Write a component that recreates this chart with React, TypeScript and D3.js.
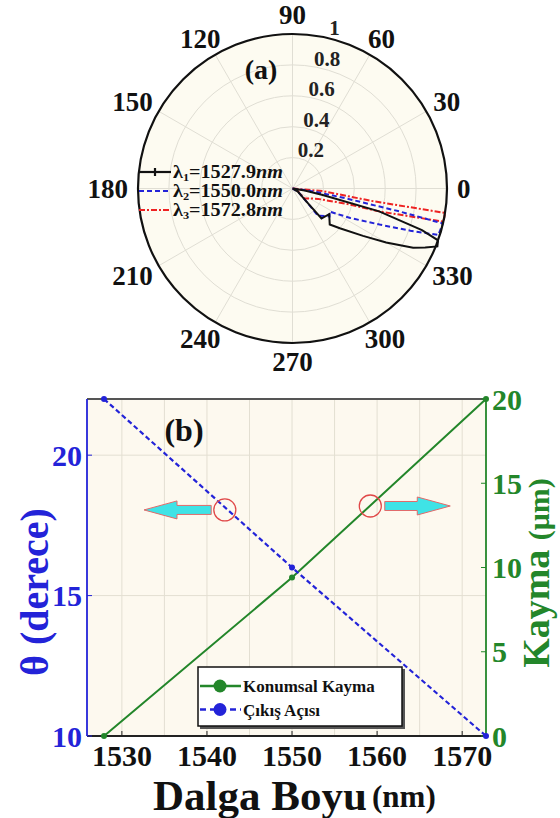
import React from 'react';
import * as d3 from 'd3';

const FONT = '"Liberation Serif", "Times New Roman", serif';

// ---------- (a) polar data ----------
const polarAngleTicks = [0, 30, 60, 90, 120, 150, 180, 210, 240, 270, 300, 330];
const polarRadialTicks = [0.2, 0.4, 0.6, 0.8, 1];
// [angle in degrees (counter-clockwise from 0), normalized intensity]
const lobeLambda1: [number, number][] = [
  [0, 0], [-9, 0.08], [-12, 0.2], [-14.8, 0.58], [-17.8, 0.88], [-19.6, 1.0],
  [-21.8, 1.01], [-24, 0.94], [-26.2, 0.87], [-30, 0.7], [-33.9, 0.55], [-40, 0.4],
  [-44, 0.335], [-35, 0.29], [-46, 0.27], [-43, 0.124], [-30, 0.04], [0, 0],
];
const lobeLambda2: [number, number][] = [
  [0, 0], [-8, 0.15], [-10.5, 0.36], [-12.1, 0.71], [-13.1, 1.0], [-17.7, 0.99],
  [-19.7, 0.81], [-22.5, 0.61], [-27, 0.42], [-31.9, 0.283], [-37, 0.3],
  [-47, 0.24], [-43, 0.124], [-30, 0.04], [0, 0],
];
const lobeLambda3: [number, number][] = [
  [0, 0], [-5, 0.2], [-8.9, 0.51], [-9.1, 1.0], [-12.4, 1.0], [-13.5, 0.75],
  [-14.8, 0.58], [-16, 0.35], [-22, 0.18], [-30, 0.128], [-40, 0.1], [-20, 0.03], [0, 0],
];
const polarSeriesSub = ['1', '2', '3'];
const polarSeriesValue = ['1527.9', '1550.0', '1572.8'];

// ---------- (b) data ----------
const wavelengths = [1527.9, 1550.0, 1572.8];
const exitAngle = [22.0, 16.0, 10.0];
const spatialShift = [0, 9.4, 20];
const xTicks = [1530, 1540, 1550, 1560, 1570];
const xGrid = [1530, 1535, 1540, 1545, 1550, 1555, 1560, 1565, 1570];
const leftTicks = [10, 15, 20];
const rightTicks = [0, 5, 10, 15, 20];
const legendLabels = ['Konumsal Kayma', 'Çıkış Açısı'];

const BLUE = '#2323d8';
const GREEN = '#23862a';
const RED = '#ee2222';

export default function App() {
  // polar geometry
  const cx = 292.5, cy = 188.5, R = 154.5;
  const rS = d3.scaleLinear().domain([0, 1]).range([0, R]);
  const toRad = (a: number) => (a * Math.PI) / 180;
  const radial = d3
    .lineRadial<[number, number]>()
    .angle((d) => toRad(90 - d[0]))
    .radius((d) => rS(d[1]));

  // plot b geometry
  const x0 = 87, x1 = 486, yTop = 399, yBot = 736;
  const xS = d3.scaleLinear().domain([1525.9, 1572.8]).range([x0, x1]);
  const yL = d3.scaleLinear().domain([10, 22]).range([yBot, yTop]);
  const yR = d3.scaleLinear().domain([0, 20]).range([yBot, yTop]);

  const thetaLine = d3.line<number>().x((_, i) => xS(wavelengths[i])).y((d) => yL(d))(exitAngle) || '';
  const shiftLine = d3.line<number>().x((_, i) => xS(wavelengths[i])).y((d) => yR(d))(spatialShift) || '';

  // annotation arrows
  const arrow = (tipX: number, tailX: number, y: number) => {
    const dir = tipX < tailX ? 1 : -1;
    const hl = 33, hh = 9, bh = 4.5;
    const hb = tipX + dir * hl;
    return `M${tipX},${y} L${hb},${y - hh} L${hb},${y - bh} L${tailX},${y - bh} L${tailX},${y + bh} L${hb},${y + bh} L${hb},${y + hh} Z`;
  };
  const leftArrowY = yL(18.05);
  const rightArrowY = yR(13.65);

  const lblW = 13.5;

  return (
    <svg width={560} height={818} style={{ position: 'absolute', left: 0, top: 0, background: '#fff' }} fontFamily={FONT}>
      {/* ===== (a) polar ===== */}
      <g transform={`translate(${cx},${cy})`}>
        <circle r={R} fill="#fdfbf1" />
        {polarRadialTicks.slice(0, -1).map((t) => (
          <circle key={t} r={rS(t)} fill="none" stroke="#e0ded4" strokeWidth={1} />
        ))}
        {polarAngleTicks.map((a) => (
          <line key={a} x1={0} y1={0} x2={R * Math.cos(toRad(a))} y2={-R * Math.sin(toRad(a))} stroke="#e0ded4" strokeWidth={1} />
        ))}
        <path d={radial(lobeLambda3) || ''} fill="none" stroke={RED} strokeWidth={2} strokeDasharray="6,2,2,2" />
        <path d={radial(lobeLambda2) || ''} fill="none" stroke={BLUE} strokeWidth={2} strokeDasharray="5,3" />
        <path d={radial(lobeLambda1) || ''} fill="none" stroke="#111" strokeWidth={2} />
        <circle r={R} fill="none" stroke="#111" strokeWidth={2.2} />
        {polarRadialTicks.map((t) => (
          <text key={t} x={rS(t) * Math.cos(toRad(80)) + (t === 1 ? 10 : 0)} y={-rS(t) * Math.sin(toRad(80)) - 1}
            fontSize={21} fontWeight="bold" fill="#222">{t}</text>
        ))}
        {polarAngleTicks.map((a) => {
          const w = String(a).length * lblW;
          const c = Math.cos(toRad(a)), s = Math.sin(toRad(a));
          const x = c * (R + 10) + c * w / 2;
          const y = -s * (R + 10 + 9);
          return (
            <text key={a} x={x} y={y} dy="0.35em" textAnchor="middle" fontSize={27} fontWeight="bold" fill="#111">{a}</text>
          );
        })}
      </g>
      <text x={261} y={79} textAnchor="middle" fontSize={28} fontWeight="bold" fill="#111">(a)</text>
      {/* polar legend */}
      {polarSeriesSub.map((sub, i) => {
        const y = 172 + i * 19;
        const stroke = i === 0 ? '#111' : i === 1 ? BLUE : RED;
        const dash = i === 0 ? undefined : i === 1 ? '5,3' : '6,2,2,2';
        return (
          <g key={sub}>
            <line x1={139} x2={171} y1={y} y2={y} stroke={stroke} strokeWidth={2.2} strokeDasharray={dash} />
            {i === 0 && <line x1={155} x2={155} y1={y - 4} y2={y + 4} stroke="#111" strokeWidth={2.2} />}
            <text transform={`translate(173,${y + 6}) scale(1.12,1)`} fontSize={18} fontWeight="bold" fill="#111">
              λ<tspan fontSize={11} dy={3}>{sub}</tspan>
              <tspan dy={-3}>={polarSeriesValue[i]}</tspan>
              <tspan fontStyle="italic">nm</tspan>
            </text>
          </g>
        );
      })}

      {/* ===== (b) ===== */}
      <rect x={x0} y={yTop} width={x1 - x0} height={yBot - yTop} fill="#fdf9ef" />
      {xGrid.map((v) => (
        <line key={v} x1={xS(v)} x2={xS(v)} y1={yTop} y2={yBot} stroke="#e3dfd2" strokeWidth={1} />
      ))}
      {[15, 20].map((v) => (
        <line key={v} x1={x0} x2={x1} y1={yL(v)} y2={yL(v)} stroke="#e3dfd2" strokeWidth={1} />
      ))}
      {/* axes */}
      <line x1={x0} x2={x1} y1={yTop} y2={yTop} stroke="#555" strokeWidth={2} />
      <line x1={x0} x2={x1} y1={yBot} y2={yBot} stroke="#222" strokeWidth={2} />
      <line x1={x0} x2={x0} y1={yTop} y2={yBot} stroke={BLUE} strokeWidth={1.8} />
      <line x1={x1} x2={x1} y1={yTop} y2={yBot} stroke={GREEN} strokeWidth={1.8} />
      {xTicks.map((v) => (
        <g key={v}>
          <line x1={xS(v)} x2={xS(v)} y1={yBot} y2={yBot - 5} stroke="#222" strokeWidth={1} />
          <text x={xS(v)} y={766} textAnchor="middle" fontSize={30} fontWeight="bold" fill="#111">{v}</text>
        </g>
      ))}
      {leftTicks.map((v) => (
        <g key={v}>
          <line x1={x0} x2={x0 + 5} y1={yL(v)} y2={yL(v)} stroke={BLUE} strokeWidth={1} />
          <text x={x0 - 5} y={yL(v)} dy="0.35em" textAnchor="end" fontSize={30} fontWeight="bold" fill={BLUE}>{v}</text>
        </g>
      ))}
      {rightTicks.map((v) => (
        <g key={v}>
          <line x1={x1} x2={x1 - 5} y1={yR(v)} y2={yR(v)} stroke={GREEN} strokeWidth={1} />
          <text x={x1 + 6} y={yR(v)} dy="0.35em" textAnchor="start" fontSize={30} fontWeight="bold" fill={GREEN}>{v}</text>
        </g>
      ))}

      {/* series */}
      <path d={shiftLine} fill="none" stroke={GREEN} strokeWidth={2} />
      {spatialShift.map((v, i) => (
        <circle key={i} cx={xS(wavelengths[i])} cy={yR(v)} r={3} fill={GREEN} />
      ))}
      <path d={thetaLine} fill="none" stroke={BLUE} strokeWidth={2.2} strokeDasharray="5,3" />
      {exitAngle.map((v, i) => (
        <circle key={i} cx={xS(wavelengths[i])} cy={yL(v)} r={3} fill={BLUE} />
      ))}

      {/* annotations */}
      <path d={arrow(xS(1532.6), xS(1540.5), leftArrowY)} fill="#3fe3e6" stroke="#e26a6a" strokeWidth={1} />
      <circle cx={xS(1542.1)} cy={leftArrowY} r={11} fill="none" stroke="#e04848" strokeWidth={1.3} />
      <path d={arrow(xS(1568.6), xS(1560.9), rightArrowY)} fill="#3fe3e6" stroke="#e26a6a" strokeWidth={1} />
      <circle cx={xS(1559.2)} cy={rightArrowY} r={11} fill="none" stroke="#e04848" strokeWidth={1.3} />

      <text x={184} y={441} textAnchor="middle" fontSize={32} fontWeight="bold" fill="#111">(b)</text>

      {/* legend */}
      <rect x={200} y={669} width={205} height={60} fill="#555" />
      <rect x={198} y={667} width={204} height={59} fill="#fff" stroke="#111" strokeWidth={1.5} />
      {legendLabels.map((lab, i) => {
        const y = 686 + i * 23.5;
        const c = i === 0 ? GREEN : BLUE;
        return (
          <g key={lab}>
            <line x1={200} x2={241} y1={y} y2={y} stroke={c} strokeWidth={2.5} strokeDasharray={i === 1 ? '6,4' : undefined} />
            <circle cx={220} cy={y} r={6.5} fill={c} />
            <text x={243} y={y + 6} fontSize={17} fontWeight="bold" fill="#111">{lab}</text>
          </g>
        );
      })}

      {/* axis titles */}
      <text x={260} y={810} textAnchor="middle" fontSize={43} fontWeight="bold" fill="#111">Dalga Boyu</text>
      <text x={372} y={807} textAnchor="start" fontSize={31} fontWeight="bold" fill="#111">(nm)</text>
      <text transform="translate(48,592) rotate(-90)" textAnchor="middle" fontSize={40} fontWeight="bold" fill={BLUE}>θ (derece)</text>
      <text transform="translate(549,573) rotate(-90)" textAnchor="middle" fill={GREEN} fontWeight="bold">
        <tspan fontSize={38}>Kayma </tspan>
        <tspan fontSize={30}>(μm)</tspan>
      </text>
    </svg>
  );
}
